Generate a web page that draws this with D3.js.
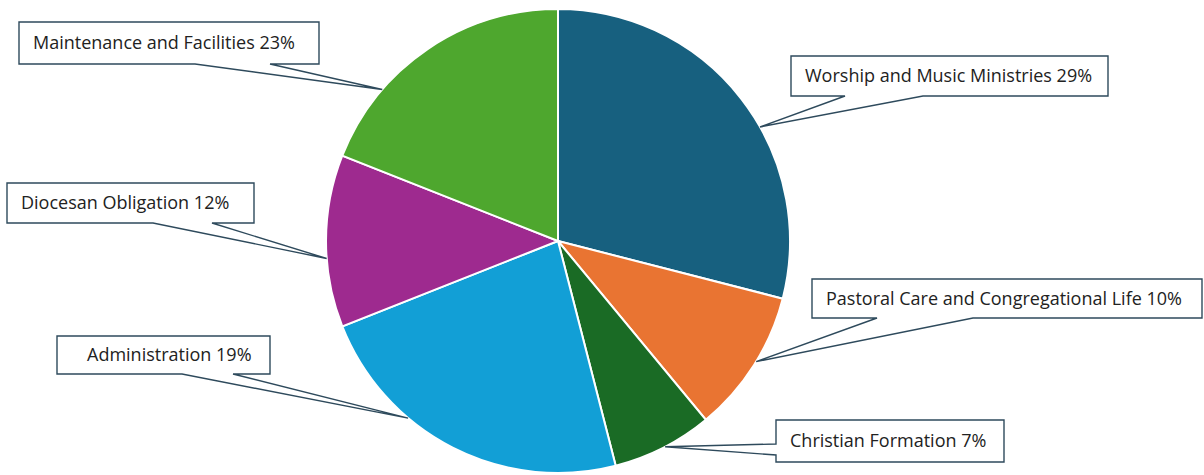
<!DOCTYPE html>
<html>
<head>
<meta charset="utf-8">
<script src="https://cdn.jsdelivr.net/npm/d3@7"></script>
<style>
  body { margin: 0; background: #fff; }
  text { font-family: "Segoe UI", "Open Sans", "Noto Sans", sans-serif; }
</style>
</head>
<body>
<svg id="pie" width="1204" height="475"></svg>
<script>
// budget categories, clockwise from 12 o'clock
let categories = ["Worship and Music Ministries", "Pastoral Care and Congregational Life",
    "Christian Formation", "Administration", "Diocesan Obligation", "Maintenance and Facilities"];
let shares = [29, 10, 7, 23, 12, 19];       // slice sizes as drawn
let shownPct = [29, 10, 7, 19, 12, 23];     // percentages printed in the callouts
let colors = ["#17607f", "#e97432", "#1a6b25", "#129fd6", "#9e2a8f", "#4ea72e"];

let svg = d3.select("#pie"),
    cx = 558, cy = 241, r = 232;

let pie = d3.pie().sort(null).value(d => d)(shares);
let arc = d3.arc().innerRadius(0).outerRadius(r);

let g = svg.append("g").attr("transform", "translate(" + cx + "," + cy + ")");

g.selectAll("path")
  .data(pie)
  .enter().append("path")
    .attr("d", arc)
    .attr("fill", (d, i) => colors[i])
    .attr("stroke", "#fff")
    .attr("stroke-width", 2);

// callout boxes: box, tail base (along bottom or left edge), where along the slice the tail points
let callouts = [
  { x: 791, y: 56,  w: 317, h: 40, side: "bottom", a: 845, b: 923, f: 0.58 },
  { x: 812, y: 279, w: 390, h: 39, side: "bottom", a: 877, b: 973, f: 0.47 },
  { x: 776, y: 420, w: 228, h: 42, side: "left",   a: 444, b: 455, f: 0.48 },
  { x: 57,  y: 336, w: 213, h: 38, side: "bottom", a: 182, b: 233, f: 0.66, pad: 30 },
  { x: 7,   y: 183, w: 247, h: 40, side: "bottom", a: 153, b: 212, f: 0.40 },
  { x: 19,  y: 22,  w: 300, h: 42, side: "bottom", a: 195, b: 270, f: 0.28 }
];

function tip(d, f) {
  let ang = d.startAngle + f * (d.endAngle - d.startAngle);
  return [cx + r * Math.sin(ang), cy - r * Math.cos(ang)];
}

function calloutPath(c, t) {
  let x0 = c.x, y0 = c.y, x1 = c.x + c.w, y1 = c.y + c.h;
  if (c.side == "left") {
    return "M" + x0 + "," + y0 + "H" + x1 + "V" + y1 + "H" + x0 +
      "V" + c.b + "L" + t[0] + "," + t[1] + "L" + x0 + "," + c.a + "Z";
  }
  return "M" + x0 + "," + y0 + "H" + x1 + "V" + y1 + "H" + c.b +
    "L" + t[0] + "," + t[1] + "L" + c.a + "," + y1 + "H" + x0 + "Z";
}

let labels = svg.selectAll("g.callout")
  .data(pie)
  .enter().append("g")
    .attr("class", "callout");

labels.append("path")
    .attr("d", (d, i) => calloutPath(callouts[i], tip(d, callouts[i].f)))
    .attr("fill", "#fff")
    .attr("stroke", "#2e4a5c")
    .attr("stroke-width", 1.4)
    .attr("stroke-linejoin", "miter");

labels.append("text")
    .attr("x", (d, i) => callouts[i].x + (callouts[i].pad || 14))
    .attr("y", (d, i) => callouts[i].y + callouts[i].h / 2)
    .attr("dy", "0.36em")
    .attr("font-size", 18)
    .attr("fill", "#222")
    .text((d, i) => categories[i] + " " + shownPct[i] + "%");
</script>
</body>
</html>
